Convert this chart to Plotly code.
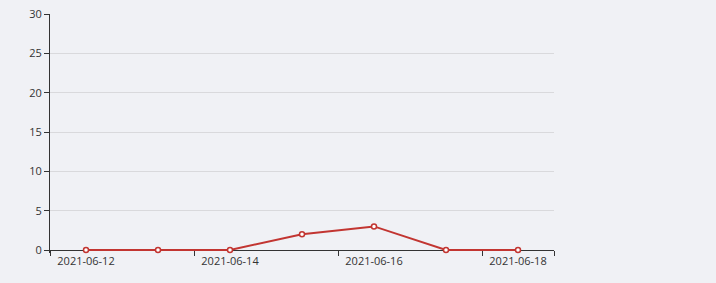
import plotly.graph_objects as go

dates = ["2021-06-12", "2021-06-13", "2021-06-14", "2021-06-15",
         "2021-06-16", "2021-06-17", "2021-06-18"]
values = [0, 0, 0, 2, 3, 0, 0]
y_ticks = [0, 5, 10, 15, 20, 25, 30]

label_dates = dates[::2]
n = len(dates)
boundaries = [i - 0.5 for i in range(0, n, 2)] + [n - 0.5]

bg = "#f0f1f5"
axis_col = "#333333"
font = dict(family="Open Sans, Noto Sans, sans-serif", size=11, color="#333333")

# layout geometry: plot 14..250 for 0..30, extended 3px below zero so the
# zero-valued line is not clipped
H = 283
top, zero_px, pad = 14, 250, 3
ymax = 30
unit = (zero_px - top) / ymax
ymin = -pad / unit
b = H - zero_px - pad
area_h = H - top - b
x_pos = pad / area_h

fig = go.Figure()
fig.add_trace(go.Scatter(
    x=dates, y=values, mode="lines+markers",
    line=dict(color="#c23531", width=2),
    marker=dict(symbol="circle", size=5, color="white",
                line=dict(color="#c23531", width=1.5)),
    hoverinfo="x+y", showlegend=False, cliponaxis=False,
))
fig.add_trace(go.Scatter(x=[boundaries[0], boundaries[-1]], y=[0, 0],
                         xaxis="x2", mode="markers", marker=dict(opacity=0),
                         showlegend=False, hoverinfo="skip"))

fig.update_layout(
    width=716, height=H,
    margin=dict(l=50, r=162, t=top, b=b, autoexpand=False),
    paper_bgcolor=bg, plot_bgcolor=bg,
    font=font,
    xaxis=dict(type="category", range=[-0.5, n - 0.5],
               anchor="free", position=x_pos,
               tickvals=label_dates, ticktext=label_dates,
               ticks="", showgrid=False, showline=True,
               linecolor=axis_col, linewidth=1, zeroline=False,
               tickfont=font, ticklabelstandoff=1, automargin=False,
               layer="below traces"),
    xaxis2=dict(overlaying="x", side="bottom", range=[-0.5, n - 0.5],
                anchor="free", position=x_pos,
                tickvals=boundaries, ticktext=[""] * len(boundaries),
                ticks="outside", ticklen=5, tickcolor=axis_col,
                showgrid=False, showline=False, zeroline=False,
                automargin=False, layer="below traces"),
    yaxis=dict(range=[ymin, ymax], tickvals=y_ticks, ticks="outside", ticklen=5,
               tickcolor=axis_col, showline=True, linecolor=axis_col,
               gridcolor="#d9d9dc", zeroline=False, tickfont=font,
               automargin=False, layer="below traces"),
    hovermode="closest",
)

fig.write_html("out.html")
